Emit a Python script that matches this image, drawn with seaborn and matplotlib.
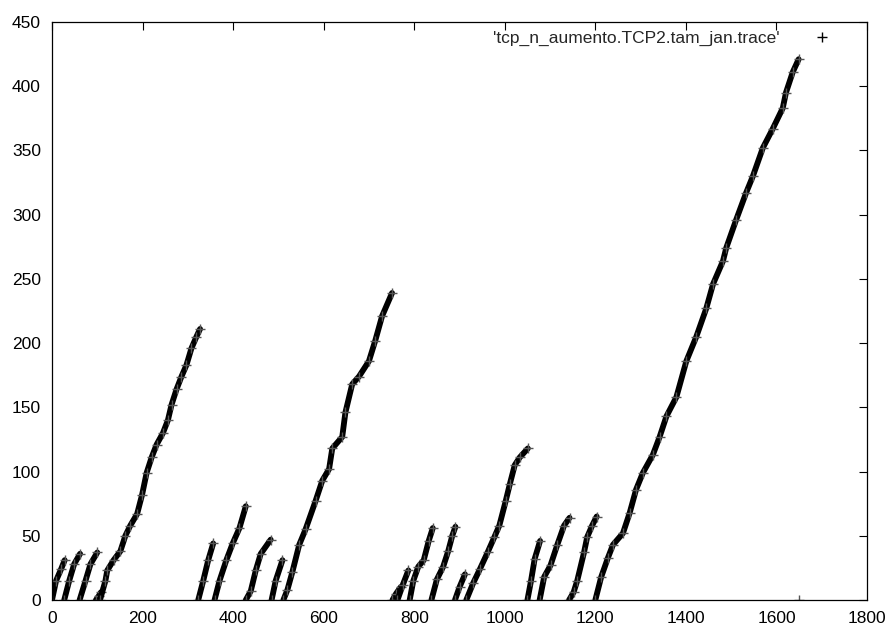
import pandas as pd
import matplotlib
matplotlib.use("Agg")
import matplotlib.pyplot as plt
from matplotlib.lines import Line2D
import seaborn as sns

# trace segments: time (x) vs sequence number (y), knots
seg01_x = [0, 9, 20, 28]
seg01_y = [0, 15, 24, 31]
seg02_x = [27, 38, 49, 62]
seg02_y = [0, 15, 28, 36]
seg03_x = [61, 74, 85, 100]
seg03_y = [0, 15, 28, 37]
seg04_x = [97, 103, 108]
seg04_y = [0, 3, 6]
seg05_x = [106, 118, 122, 136, 151, 162, 173, 188, 199, 209, 220, 231, 245, 256, 264, 275, 286, 297, 308, 319, 327]
seg05_y = [0, 15, 23, 31, 38, 50, 58, 67, 82, 99, 111, 121, 130, 140, 152, 164, 174, 183, 196, 205, 211]
seg06_x = [323, 334, 345, 356]
seg06_y = [0, 15, 31, 44]
seg07_x = [359, 370, 385, 399, 414, 428]
seg07_y = [0, 15, 31, 44, 56, 73]
seg08_x = [428, 439, 450, 461, 483]
seg08_y = [0, 7, 23, 36, 47]
seg09_x = [485, 494, 509]
seg09_y = [0, 15, 31]
seg10_x = [511, 520, 531, 546, 560, 582, 597, 612, 619, 641, 648, 663, 678, 700, 714, 729, 751]
seg10_y = [0, 8, 22, 43, 55, 77, 93, 102, 118, 127, 146, 168, 174, 186, 202, 221, 239]
seg11_x = [752, 760, 770]
seg11_y = [0, 5, 10]
seg12_x = [763, 775, 787]
seg12_y = [0, 12, 23]
seg13_x = [790, 798, 809, 821, 832, 841]
seg13_y = [0, 15, 26, 31, 46, 56]
seg14_x = [838, 850, 864, 875, 884, 891]
seg14_y = [0, 16, 26, 38, 50, 57]
seg15_x = [890, 900, 912]
seg15_y = [0, 10, 20]
seg16_x = [915, 930, 945, 962, 977, 988, 1002, 1011, 1022, 1033, 1051]
seg16_y = [0, 13, 24, 37, 49, 58, 77, 90, 105, 111, 118]
seg17_x = [1050, 1058, 1066, 1078]
seg17_y = [0, 15, 32, 46]
seg18_x = [1077, 1087, 1101, 1116, 1131, 1143]
seg18_y = [0, 18, 27, 43, 58, 64]
seg19_x = [1142, 1152, 1160, 1175, 1182, 1193, 1203]
seg19_y = [0, 6, 15, 37, 49, 58, 65]
seg20_x = [1200, 1213, 1228, 1239, 1261, 1276, 1290, 1305, 1327, 1342, 1357, 1379, 1401, 1423, 1445,
           1460, 1482, 1489, 1511, 1533, 1548, 1570, 1592, 1614, 1621, 1636, 1649]
seg20_y = [0, 18, 33, 43, 52, 68, 86, 99, 113, 127, 143, 158, 186, 205, 227,
           246, 264, 274, 296, 317, 330, 352, 367, 383, 395, 411, 421]
seg21_x = [1650]
seg21_y = [0]

series_label = "'tcp_n_aumento.TCP2.tam_jan.trace'"

segments = [
    (seg01_x, seg01_y), (seg02_x, seg02_y), (seg03_x, seg03_y), (seg04_x, seg04_y),
    (seg05_x, seg05_y), (seg06_x, seg06_y), (seg07_x, seg07_y), (seg08_x, seg08_y),
    (seg09_x, seg09_y), (seg10_x, seg10_y), (seg11_x, seg11_y), (seg12_x, seg12_y),
    (seg13_x, seg13_y), (seg14_x, seg14_y), (seg15_x, seg15_y), (seg16_x, seg16_y),
    (seg17_x, seg17_y), (seg18_x, seg18_y), (seg19_x, seg19_y), (seg20_x, seg20_y),
    (seg21_x, seg21_y),
]

rows = []
for i, (xs, ys) in enumerate(segments):
    for x, y in zip(xs, ys):
        rows.append({"x": x, "y": y, "seg": i})
df = pd.DataFrame(rows)

sns.set_style("white")
plt.rcParams["font.family"] = ["Liberation Sans", "DejaVu Sans"]

fig = plt.figure(figsize=(8.88, 6.27), dpi=100)
ax = fig.add_axes([52 / 888, 27 / 627, 815 / 888, 578 / 627])

# band of '+' points drawn as a thick line with crosses at the knots
sns.lineplot(data=df, x="x", y="y", units="seg", estimator=None, sort=False,
             color="black", linewidth=4.2, marker="+", markersize=6.5,
             markeredgewidth=1.0, markeredgecolor="#555555", legend=False, ax=ax)

ax.set_xlim(0, 1800)
ax.set_ylim(0, 450)
ax.set_xticks(range(0, 1801, 200))
ax.set_yticks(range(0, 451, 50))
ax.set_xlabel("")
ax.set_ylabel("")
ax.tick_params(direction="in", length=6, width=0.8, top=True, right=True,
               labelsize=12.5, pad=8, colors="black")
for s in ax.spines.values():
    s.set_color("black")
    s.set_linewidth(0.9)

handle = Line2D([], [], linestyle="none", marker="+", color="black", markersize=7, markeredgewidth=1)
ax.legend([handle], [series_label], loc="upper right", bbox_to_anchor=(0.955, 0.985),
          frameon=False, markerfirst=False, fontsize=12.5, borderpad=0, borderaxespad=0,
          handlelength=1, handletextpad=1.9)

fig.savefig("out.png", dpi=100)
